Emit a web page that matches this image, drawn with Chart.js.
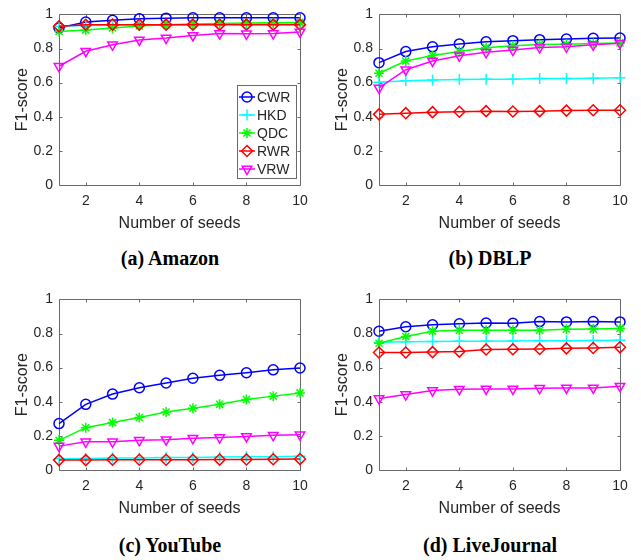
<!DOCTYPE html>
<html><head><meta charset="utf-8">
<script src="https://cdn.jsdelivr.net/npm/chart.js@4.4.1/dist/chart.umd.min.js"></script>
<style>
html,body{margin:0;padding:0;background:#fff;}
#wrap{position:relative;width:641px;height:560px;overflow:hidden;background:#fff;}
.panel{position:absolute;width:320px;height:240px;}
.cap{position:absolute;width:320px;text-align:center;font-family:"Liberation Serif","Times New Roman",serif;font-weight:bold;font-size:20px;color:#000;line-height:24px;}
</style></head><body>
<div id="wrap">
  <div class="panel" style="left:0;top:0"><canvas id="c0" width="320" height="240"></canvas></div>
  <div class="panel" style="left:320px;top:0"><canvas id="c1" width="320" height="240"></canvas></div>
  <div class="panel" style="left:0;top:285px"><canvas id="c2" width="320" height="240"></canvas></div>
  <div class="panel" style="left:320px;top:285px"><canvas id="c3" width="320" height="240"></canvas></div>
  <div class="cap" style="left:10px;top:246px">(a) Amazon</div>
  <div class="cap" style="left:330px;top:246px">(b) DBLP</div>
  <div class="cap" style="left:10px;top:533px">(c) YouTube</div>
  <div class="cap" style="left:330px;top:533px">(d) LiveJournal</div>
</div>
<script>
// ---------------- data ----------------
const seeds = [1,2,3,4,5,6,7,8,9,10];
const xTickValues = [2,4,6,8,10];
const yTickValues = [0,0.2,0.4,0.6,0.8,1];
const methods = ['CWR','HKD','QDC','RWR','VRW'];
const xLabel = 'Number of seeds';
const yLabel = 'F1-score';

const amazonCWR = [0.920,0.955,0.966,0.975,0.978,0.980,0.980,0.980,0.980,0.980];
const amazonHKD = [0.930,0.935,0.937,0.940,0.940,0.940,0.942,0.942,0.943,0.944];
const amazonQDC = [0.900,0.908,0.920,0.932,0.939,0.943,0.947,0.949,0.951,0.953];
const amazonRWR = [0.930,0.939,0.940,0.940,0.940,0.940,0.940,0.940,0.940,0.940];
const amazonVRW = [0.696,0.784,0.822,0.850,0.861,0.877,0.888,0.886,0.888,0.897];

const dblpCWR = [0.717,0.782,0.810,0.827,0.840,0.846,0.852,0.856,0.860,0.862];
const dblpHKD = [0.603,0.611,0.615,0.619,0.620,0.620,0.624,0.624,0.626,0.628];
const dblpQDC = [0.655,0.727,0.759,0.782,0.805,0.816,0.824,0.825,0.829,0.833];
const dblpRWR = [0.414,0.421,0.427,0.429,0.433,0.431,0.433,0.436,0.438,0.438];
const dblpVRW = [0.569,0.676,0.727,0.757,0.778,0.791,0.806,0.810,0.822,0.831];

const youtubeCWR = [0.272,0.385,0.445,0.482,0.510,0.538,0.555,0.570,0.587,0.598];
const youtubeHKD = [0.066,0.068,0.070,0.071,0.073,0.074,0.076,0.077,0.078,0.080];
const youtubeQDC = [0.174,0.248,0.278,0.308,0.340,0.362,0.385,0.413,0.433,0.452];
const youtubeRWR = [0.058,0.058,0.060,0.060,0.060,0.060,0.061,0.062,0.063,0.064];
const youtubeVRW = [0.140,0.165,0.165,0.174,0.178,0.186,0.190,0.197,0.203,0.206];

const ljCWR = [0.813,0.840,0.851,0.857,0.862,0.860,0.870,0.868,0.870,0.868];
const ljHKD = [0.749,0.752,0.753,0.754,0.755,0.756,0.757,0.758,0.759,0.761];
const ljQDC = [0.743,0.783,0.813,0.819,0.819,0.819,0.819,0.825,0.826,0.830];
const ljRWR = [0.689,0.689,0.691,0.694,0.706,0.708,0.709,0.713,0.715,0.719];
const ljVRW = [0.419,0.442,0.466,0.474,0.475,0.475,0.479,0.481,0.481,0.491];

// ---------------- styles ----------------
const colors = ['#0000FF','#00FFFF','#00FF00','#FF0000','#FF00FF'];
const pointStyles = ['circle','cross','star','rectRot','triangle'];
const pointRadii = [5,5.5,5,5.5,5.5];
const pointRotations = [0,0,0,0,180];
const AXIS = '#262626';
const FRAME = '#6a6a6a';
const FONT = "'Liberation Sans', Arial, Helvetica, sans-serif";

const PLOT_LEFT = 59, PLOT_RIGHT_PAD = 20, PLOT_TOP = 9, PLOT_BOTTOM = 185, H = 240;

const framePlugin = {
  id: 'frame',
  beforeDatasetsDraw(chart) {
    const {ctx, chartArea: a, scales: {x, y}} = chart;
    const L = Math.round(a.left) + 0.5, R = Math.round(a.right) + 0.5;
    const T = Math.round(a.top) + 0.5, B = Math.round(a.bottom) + 0.5;
    const TL = 3;
    ctx.save();
    ctx.strokeStyle = FRAME;
    ctx.lineWidth = 1;
    ctx.beginPath();
    ctx.rect(L, T, R - L, B - T);
    x.ticks.forEach(t => {
      const px = Math.round(x.getPixelForValue(t.value)) + 0.5;
      ctx.moveTo(px, B); ctx.lineTo(px, B - TL);
      ctx.moveTo(px, T); ctx.lineTo(px, T + TL);
    });
    y.ticks.forEach(t => {
      const py = Math.round(y.getPixelForValue(t.value)) + 0.5;
      ctx.moveTo(L, py); ctx.lineTo(L + TL, py);
      ctx.moveTo(R, py); ctx.lineTo(R - TL, py);
    });
    ctx.stroke();
    ctx.restore();
  }
};

const legendPlugin = {
  id: 'innerLegend',
  afterDatasetsDraw(chart, args, opts) {
    if (!opts.show) return;
    const {ctx, chartArea: a} = chart;
    const boxW = 59, rowH = 18, boxH = rowH * methods.length + 3;
    const right = Math.round(a.right) - 4, bottom = Math.round(a.bottom) - 7;
    const left = right - boxW, top = bottom - boxH;
    ctx.save();
    ctx.fillStyle = '#fff';
    ctx.fillRect(left, top, boxW, boxH);
    ctx.strokeStyle = FRAME;
    ctx.lineWidth = 1;
    ctx.strokeRect(left + 0.5, top + 0.5, boxW, boxH);
    chart.data.datasets.forEach((ds, i) => {
      const cy = top + 12 + i * rowH;
      ctx.strokeStyle = ds.borderColor;
      ctx.lineWidth = 1.5;
      ctx.beginPath();
      ctx.moveTo(left + 2, cy); ctx.lineTo(left + 18, cy);
      ctx.stroke();
      ctx.fillStyle = 'rgba(0,0,0,0)';
      Chart.helpers.drawPoint(ctx, {pointStyle: ds.pointStyle, radius: ds.pointRadius, rotation: ds.pointRotation, borderWidth: 1.5}, left + 10, cy);
      ctx.fillStyle = AXIS;
      ctx.font = "14px " + FONT;
      ctx.textBaseline = 'middle';
      ctx.textAlign = 'left';
      ctx.fillText(ds.label, left + 20, cy + 1);
    });
    ctx.restore();
  }
};

function makeChart(id, series, showLegend) {
  const datasets = series.map((vals, i) => ({
    label: methods[i],
    data: seeds.map((s, j) => ({x: s, y: vals[j]})),
    borderColor: colors[i],
    backgroundColor: 'rgba(0,0,0,0)',
    borderWidth: 1.5,
    pointStyle: pointStyles[i],
    pointRadius: pointRadii[i],
    pointRotation: pointRotations[i],
    pointBorderColor: colors[i],
    pointBackgroundColor: 'rgba(0,0,0,0)',
    pointBorderWidth: 1.5,
    tension: 0,
    clip: false,
    order: methods.length - i
  }));
  return new Chart(document.getElementById(id), {
    type: 'line',
    data: {datasets},
    options: {
      responsive: false,
      animation: false,
      events: [],
      layout: {padding: {left: 0, right: PLOT_RIGHT_PAD, top: PLOT_TOP, bottom: 0}},
      plugins: {legend: {display: false}, tooltip: {enabled: false}, innerLegend: {show: showLegend}},
      scales: {
        x: {
          type: 'linear', min: 1, max: 10,
          afterBuildTicks: s => { s.ticks = xTickValues.map(v => ({value: v})); },
          afterFit: s => { s.height = H - PLOT_BOTTOM; },
          grid: {display: false, drawTicks: false},
          border: {display: false},
          ticks: {color: AXIS, font: {family: FONT, size: 14}, padding: 8, maxRotation: 0, callback: v => String(v)},
          title: {display: true, text: xLabel, color: AXIS, font: {family: FONT, size: 16}, padding: {top: 0, bottom: 7}}
        },
        y: {
          type: 'linear', min: 0, max: 1,
          afterBuildTicks: s => { s.ticks = yTickValues.map(v => ({value: v})); },
          afterFit: s => { s.width = PLOT_LEFT; },
          grid: {display: false, drawTicks: false},
          border: {display: false},
          ticks: {color: AXIS, font: {family: FONT, size: 14}, padding: 6, callback: v => String(v)},
          title: {display: true, text: yLabel, color: AXIS, font: {family: FONT, size: 16}, padding: {top: 13, bottom: 0}}
        }
      }
    },
    plugins: [framePlugin, legendPlugin]
  });
}

makeChart('c0', [amazonCWR, amazonHKD, amazonQDC, amazonRWR, amazonVRW], true);
makeChart('c1', [dblpCWR, dblpHKD, dblpQDC, dblpRWR, dblpVRW], false);
makeChart('c2', [youtubeCWR, youtubeHKD, youtubeQDC, youtubeRWR, youtubeVRW], false);
makeChart('c3', [ljCWR, ljHKD, ljQDC, ljRWR, ljVRW], false);
</script>
</body></html>
